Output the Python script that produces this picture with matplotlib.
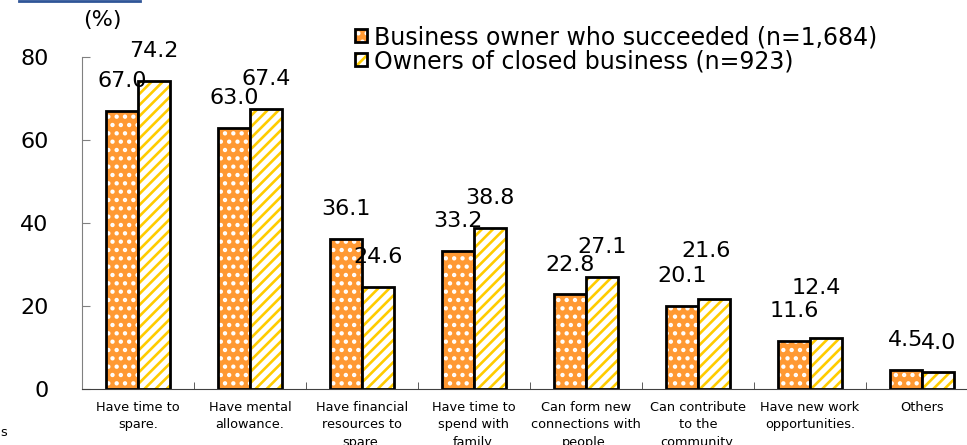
import matplotlib
matplotlib.use("Agg")
import matplotlib.pyplot as plt
import numpy as np
from matplotlib.lines import Line2D

# chart data
categories = ["Have time to\nspare.", "Have mental\nallowance.", "Have financial\nresources to\nspare.",
              "Have time to\nspend with\nfamily.", "Can form new\nconnections with\npeople.",
              "Can contribute\nto the\ncommunity.", "Have new work\nopportunities.", "Others"]
succeeded = [67.0, 63.0, 36.1, 33.2, 22.8, 20.1, 11.6, 4.5]
closed = [74.2, 67.4, 24.6, 38.8, 27.1, 21.6, 12.4, 4.0]
series_names = ["Business owner who succeeded (n=1,684)", "Owners of closed business (n=923)"]
yticks = [0, 20, 40, 60, 80]

plt.rcParams['font.family'] = 'DejaVu Sans'
plt.rcParams['hatch.linewidth'] = 1.9

W, H = 967, 445
fig = plt.figure(figsize=(W / 100, H / 100), dpi=100)
ax = fig.add_axes([82 / W, 56 / H, 896 / W, 332 / H])

x = np.arange(len(categories))
bw = 0.29
orange = '#FF9933'
yellow = '#FFCC00'

# orange bars with white dots
b1 = ax.bar(x - bw / 2, succeeded, bw, color=orange, hatch='..', edgecolor='white', linewidth=0)
e1 = ax.bar(x - bw / 2, succeeded, bw, fill=False, edgecolor='black', linewidth=2)
# white bars with yellow stripes
b2 = ax.bar(x + bw / 2, closed, bw, color='white', hatch='///', edgecolor=yellow, linewidth=0)
e2 = ax.bar(x + bw / 2, closed, bw, fill=False, edgecolor='black', linewidth=2)

# value labels; a couple were nudged by hand in the original
nudge = {5: (-6, 13), 6: (-7, 14)}
for i, (xi, v) in enumerate(zip(x - bw / 2, succeeded)):
    ax.annotate(f"{v:.1f}", (xi, v), xytext=(0, 21.5), textcoords='offset points',
                ha='center', va='center', fontsize=16, annotation_clip=False)
for i, (xi, v) in enumerate(zip(x + bw / 2, closed)):
    dx, dy = nudge.get(i, (0, 0))
    ax.annotate(f"{v:.1f}", (xi, v), xytext=(dx, 21.5 + dy), textcoords='offset points',
                ha='center', va='center', fontsize=16, annotation_clip=False)

ax.set_xlim(-0.5, len(categories) - 0.5)
ax.set_ylim(0, 80)
ax.set_yticks(yticks)
ax.tick_params(axis='y', direction='in', length=6, pad=24, labelsize=16, color='#808080')
ax.set_xticks(x)
ax.set_xticklabels(categories, fontsize=9.3, linespacing=1.45)
ax.tick_params(axis='x', length=0, pad=8.5)
ax.set_xticks(np.arange(0.5, len(categories) - 0.5, 1), minor=True)
ax.tick_params(axis='x', which='minor', direction='in', length=5, color='#404040')

for s in ['top', 'right']:
    ax.spines[s].set_visible(False)
ax.spines['left'].set_color('#808080')
ax.spines['bottom'].set_color('#404040')

ax.legend([(b1, e1), (b2, e2)], series_names, loc='upper left', bbox_to_anchor=(355 / W, 1 - 25 / H),
          bbox_transform=fig.transFigure, frameon=False, fontsize=17, handlelength=0.5,
          handleheight=0.5, handletextpad=0.3, labelspacing=0.0, borderpad=0, borderaxespad=0)

fig.text(83 / W, 1 - 20 / H, "(%)", fontsize=16, va='center', ha='left')
fig.add_artist(Line2D([19 / W, 140 / W], [1 - 0.8 / H] * 2, transform=fig.transFigure,
                      color='#2F5597', lw=2))
fig.text(0.0, 13 / H, "s", fontsize=9.3, va='center', ha='left')

fig.savefig("out.png", dpi=100)
